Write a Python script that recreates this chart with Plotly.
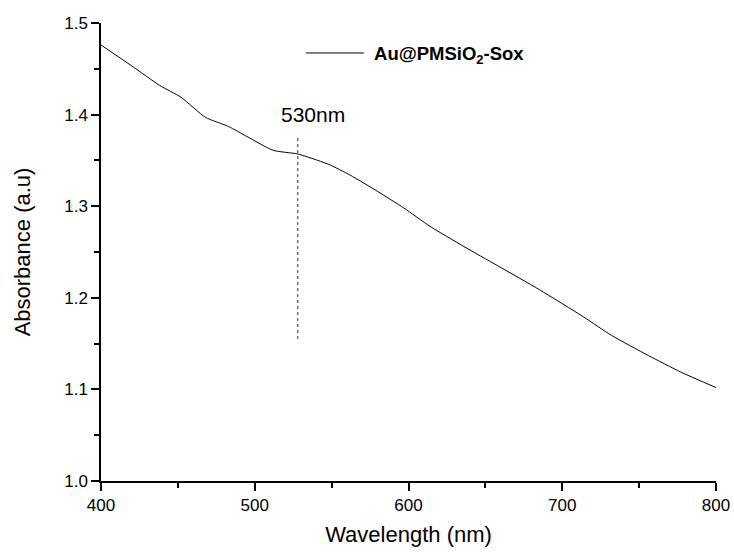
import plotly.graph_objects as go

wavelength = [400, 421, 438, 452, 468, 483, 495, 512, 528, 541, 549, 562, 580, 597,
              614, 636, 658, 685, 714, 732, 756, 777, 800]
absorbance = [1.476, 1.452, 1.432, 1.419, 1.397, 1.387, 1.376, 1.361, 1.357, 1.350,
              1.345, 1.334, 1.316, 1.298, 1.278, 1.256, 1.235, 1.209, 1.179, 1.159,
              1.137, 1.119, 1.102]
series_name = "\u00a0<b>Au@PMSiO<sub>2</sub>-Sox</b>"

peak_x = [528, 528]
peak_y = [1.155, 1.376]
peak_label = "530nm"
peak_label_pos = (538, 1.400)

FONT = "Arial, 'Liberation Sans', sans-serif"

fig = go.Figure()
fig.add_trace(go.Scatter(x=wavelength, y=absorbance, mode="lines", name=series_name,
                         line=dict(color="black", width=1, shape="spline", smoothing=0.6)))
fig.add_trace(go.Scatter(x=peak_x, y=peak_y, mode="lines", showlegend=False,
                         line=dict(color="#333333", width=1, dash="dot")))
fig.add_annotation(x=peak_label_pos[0], y=peak_label_pos[1], text=peak_label, showarrow=False,
                   font=dict(family=FONT, size=21, color="black"), xanchor="center", yanchor="middle")

axis_common = dict(showline=True, linecolor="black", linewidth=1.5, ticks="outside",
                   ticklen=8, tickwidth=1.5, tickcolor="black", showgrid=False, zeroline=False,
                   mirror=False, tickfont=dict(family=FONT, size=17, color="black"))

fig.update_xaxes(range=[400, 800], dtick=100, tick0=400,
                 minor=dict(dtick=50, ticks="outside", ticklen=5, tickwidth=1.5, tickcolor="black"),
                 title=dict(text="Wavelength (nm)", font=dict(family=FONT, size=22, color="black"), standoff=12),
                 **axis_common)
fig.update_yaxes(range=[1.0, 1.5], dtick=0.1, tick0=1.0, tickformat=".1f",
                 minor=dict(dtick=0.05, ticks="outside", ticklen=5, tickwidth=1.5, tickcolor="black"),
                 title=dict(text="Absorbance (a.u)", font=dict(family=FONT, size=22, color="black"), standoff=28),
                 **axis_common)

fig.update_layout(
    width=734, height=552,
    margin=dict(l=101, r=18, t=23, b=71, autoexpand=False),
    paper_bgcolor="white", plot_bgcolor="white",
    showlegend=True,
    legend=dict(x=0.325, y=0.975, xanchor="left", yanchor="top", bgcolor="rgba(0,0,0,0)",
                font=dict(family=FONT, size=18.5, color="black"), itemwidth=58),
)

fig.write_html("out.html", config={"displayModeBar": False},
               post_script="document.body.style.margin='0';document.body.style.padding='0';")
